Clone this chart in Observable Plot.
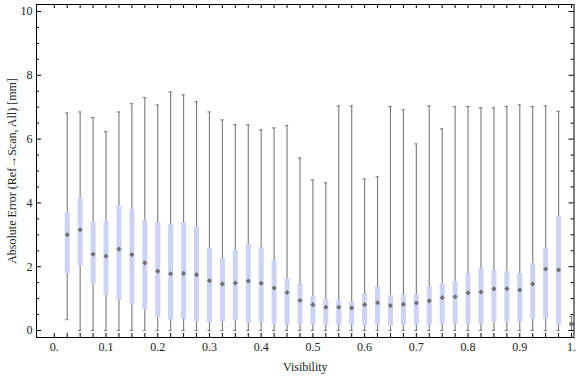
<!DOCTYPE html>
<html><head><meta charset="utf-8">
<script src="https://cdn.jsdelivr.net/npm/d3@7"></script>
<script src="https://cdn.jsdelivr.net/npm/@observablehq/plot@0.6"></script>
<style>body{margin:0;background:#fff}</style>
</head><body><div id="chart"></div>
<script>
const visibility = [0.025,0.05,0.075,0.1,0.125,0.15,0.175,0.2,0.225,0.25,0.275,0.3,0.325,0.35,0.375,0.4,0.425,0.45,0.475,0.5,0.525,0.55,0.575,0.6,0.625,0.65,0.675,0.7,0.725,0.75,0.775,0.8,0.825,0.85,0.875,0.9,0.925,0.95,0.975,1.0];
const whiskerLow = [0.34,0,0,0,0,0,0,0,0,0,0,0,0,0,0,0,0,0,0,0,0,0,0,0,0,0,0,0,0,0,0,0,0,0,0,0,0,0,0,0];
const quartile1 = [1.77,2.02,1.45,1.11,0.95,0.82,0.64,0.42,0.33,0.35,0.26,0.23,0.26,0.32,0.23,0.23,0.20,0.17,0.20,0.17,0.17,0.17,0.17,0.14,0.17,0.14,0.14,0.17,0.17,0.20,0.20,0.20,0.20,0.26,0.26,0.26,0.35,0.35,0.17,0.14];
const median = [3.00,3.16,2.39,2.33,2.55,2.38,2.12,1.86,1.78,1.79,1.75,1.56,1.46,1.49,1.55,1.48,1.33,1.19,0.94,0.81,0.73,0.73,0.71,0.81,0.87,0.78,0.82,0.86,0.93,1.03,1.06,1.18,1.21,1.31,1.31,1.27,1.46,1.93,1.90,0.20];
const quartile3 = [3.69,4.16,3.41,3.41,3.91,3.78,3.44,3.38,3.31,3.38,3.25,2.56,2.25,2.51,2.69,2.59,2.18,1.62,1.46,1.06,0.97,0.93,0.90,1.15,1.37,1.09,1.12,1.12,1.37,1.46,1.53,1.78,1.93,1.88,1.85,1.78,2.10,2.57,3.57,0.26];
const whiskerHigh = [6.82,6.85,6.67,6.23,6.85,7.11,7.30,7.07,7.48,7.39,7.17,6.85,6.60,6.45,6.45,6.29,6.35,6.42,5.41,4.72,4.63,7.04,7.04,4.75,4.82,7.02,6.92,5.85,7.04,6.32,7.02,7.02,6.98,6.98,7.02,7.07,7.02,7.04,6.87,0.44];

const xLabelValues = [0,0.1,0.2,0.3,0.4,0.5,0.6,0.7,0.8,0.9,1];
const xTickLabels = ["0.","0.1","0.2","0.3","0.4","0.5","0.6","0.7","0.8","0.9","1."];
const xMinorTicks = [0,0.025,0.05,0.075,0.1,0.125,0.15,0.175,0.2,0.225,0.25,0.275,0.3,0.325,0.35,0.375,0.4,0.425,0.45,0.475,0.5,0.525,0.55,0.575,0.6,0.625,0.65,0.675,0.7,0.725,0.75,0.775,0.8,0.825,0.85,0.875,0.9,0.925,0.95,0.975,1];
const yLabelValues = [0,2,4,6,8,10];
const yMinorTicks = [0.5,1,1.5,2.5,3,3.5,4.5,5,5.5,6.5,7,7.5,8.5,9,9.5];
const xTitle = "Visibility";
const yTitle = "Absolute Error (Ref\u2192Scan, All) [mm]";

const rows = visibility.map((v,i)=>({v, lo: whiskerLow[i], q1: quartile1[i], med: median[i], q3: quartile3[i], hi: whiskerHigh[i]}));

const W = 576, H = 377, mL = 36, mR = 2.5, mT = 4, mB = 40;
const fw = W - mL - mR, fh = H - mT - mB;
const whiskerColor = "#7a7a7a";
const boxColor = "#ccd3f5";
const font = "Liberation Serif, Times New Roman, serif";

const chart = Plot.plot({
  width: W, height: H,
  marginLeft: mL, marginRight: mR, marginTop: mT, marginBottom: mB,
  style: {fontFamily: font, fontSize: "12px", background: "#fff"},
  x: {domain: [0, 1], range: [53.8, 571]},
  y: {domain: [0, 10], range: [330, 11]},
  marks: [
    Plot.ruleX(rows, {x: "v", y1: "lo", y2: "hi", stroke: whiskerColor, strokeWidth: 1.1}),
    Plot.ruleY(rows, {y: "hi", x1: "v", x2: "v", insetLeft: -1.6, insetRight: -1.6, stroke: whiskerColor, strokeWidth: 1.1}),
    Plot.ruleY(rows, {y: "lo", x1: "v", x2: "v", insetLeft: -1.6, insetRight: -1.6, stroke: whiskerColor, strokeWidth: 1.1}),
    Plot.ruleX(rows, {x: "v", y1: "q1", y2: "q3", stroke: boxColor, strokeWidth: 5}),
    Plot.dot(rows, {x: "v", y: "med", symbol: "diamond2", r: 2.3, fill: "#707070", stroke: null}),
    Plot.frame({stroke: "#000", strokeWidth: 1}),
    Plot.ruleX(xMinorTicks, {x: d=>d, insetTop: fh - 4, stroke: "#000"}),
    Plot.ruleX(xMinorTicks, {x: d=>d, insetBottom: fh - 4, stroke: "#000"}),
    Plot.ruleY(yLabelValues, {y: d=>d, insetRight: fw - 5, stroke: "#000"}),
    Plot.ruleY(yMinorTicks, {y: d=>d, insetRight: fw - 3, stroke: "#000"}),
    Plot.ruleY(yLabelValues, {y: d=>d, insetLeft: fw - 5, stroke: "#000"}),
    Plot.ruleY(yMinorTicks, {y: d=>d, insetLeft: fw - 3, stroke: "#000"}),
    Plot.axisX({ticks: xLabelValues, tickFormat: d => xTickLabels[xLabelValues.indexOf(d)], tickSize: 0, tickPadding: 5, label: null, fontSize: 12, fill: "#222"}),
    Plot.axisY({ticks: yLabelValues, tickFormat: d => String(d), tickSize: 0, tickPadding: 4, label: null, fontSize: 12, fill: "#222"}),
    Plot.text([xTitle], {text: d=>d, frameAnchor: "bottom", textAnchor: "middle", dy: 33, fontSize: 12, fill: "#222"}),
    Plot.text([yTitle], {text: d=>d, frameAnchor: "left", textAnchor: "middle", rotate: -90, dx: -24, fontSize: 12, fill: "#222"})
  ]
});
document.getElementById("chart").appendChild(chart);
</script>
</body></html>
